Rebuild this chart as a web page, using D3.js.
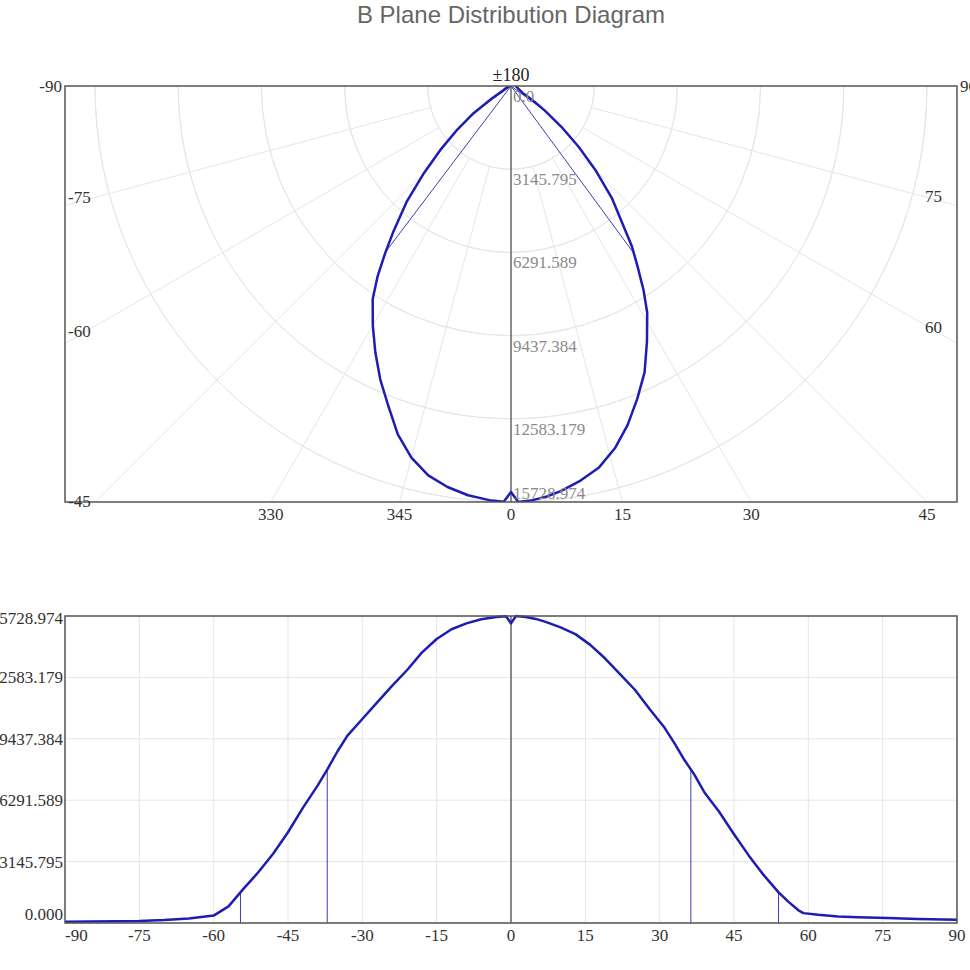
<!DOCTYPE html>
<html>
<head>
<meta charset="utf-8">
<title>B Plane Distribution Diagram</title>
<script src="https://cdn.jsdelivr.net/npm/d3@7"></script>
<style>
    body { margin: 0; background: #fff; }
    svg text { font-family: "Liberation Serif", "DejaVu Serif", serif; font-size: 17px; }
</style>
</head>
<body>
<div id="chart"></div>
<script>
// Angle (deg) and intensity.
var angles = [-90, -85, -80, -75, -70, -65, -60, -57, -54, -51, -48, -45, -42, -39, -37, -35, -33, -30, -27, -24,
    -21, -18, -15, -12, -9, -6, -3, -1, 0, 1, 3, 5, 7, 10, 13, 16, 19, 22, 25, 28,
    31, 33, 35, 37, 39, 42, 45, 48, 51, 54, 56, 58, 59, 62, 66, 70, 76, 82, 90];
var intensity = [70, 75, 85, 100, 150, 230, 380, 850, 1750, 2600, 3550, 4650, 5900, 7050, 7900, 8800, 9600, 10450, 11300, 12150,
    12950, 13850, 14550, 15050, 15350, 15560, 15680, 15720, 15350, 15728.974, 15680, 15580, 15430, 15150, 14800, 14250, 13550, 12750, 11950, 10950,
    10000, 9200, 8350, 7600, 6700, 5700, 4550, 3450, 2450, 1570, 1080, 650, 506, 420, 330, 290, 250, 210, 165];

var maxValue = 15728.974;
var valueTicks = [0, 3145.795, 6291.589, 9437.384, 12583.179, 15728.974];
var polarValueLabels = ["0.0", "3145.795", "6291.589", "9437.384", "12583.179", "15728.974"];
var cartValueLabels = ["0.000", "3145.795", "6291.589", "9437.384", "12583.179", "15728.974"];
var polarAngleTicks = [-90, -75, -60, -45, -30, -15, 0, 15, 30, 45, 60, 75, 90];
var polarAngleLabels = ["-90", "-75", "-60", "-45", "330", "345", "0", "15", "30", "45", "60", "75", "90"];
var cartAngleTicks = [-90, -75, -60, -45, -30, -15, 0, 15, 30, 45, 60, 75, 90];
var markerLevels = [0.5, 0.1];   // half-peak and 10% lines

var data = angles.map(function (a, i) { return { angle: a, value: intensity[i] }; });

var width = 970, height = 970;
var curveColor = "#1d1db4";
var markColor = "#3c3cb4";
var gridColor = "#e6e6e6";
var frameColor = "#555";

var svg = d3.select("#chart").append("svg")
    .attr("width", width)
    .attr("height", height);

svg.append("text")
    .attr("x", 511).attr("y", 23)
    .attr("text-anchor", "middle")
    .style("font-family", "'Liberation Sans', Arial, sans-serif")
    .style("font-size", "24px")
    .style("fill", "#666")
    .text("B Plane Distribution Diagram");

var rad = function (d) { return d * Math.PI / 180; };

// angle where the curve crosses a level, searching from one side
function crossing(level, fromLeft) {
    var n = data.length;
    for (var k = 0; k < n - 1; k++) {
        var i = fromLeft ? k : n - 1 - k;
        var j = fromLeft ? i + 1 : i - 1;
        var a = data[i], b = data[j];
        if (a.value < level && b.value >= level) {
            return a.angle + (b.angle - a.angle) * (level - a.value) / (b.value - a.value);
        }
    }
    return null;
}
var markers = [];
markerLevels.forEach(function (f) {
    var lv = f * maxValue;
    markers.push({ angle: crossing(lv, true), value: lv });
    markers.push({ angle: crossing(lv, false), value: lv });
});

/* ---------------- polar plot ---------------- */
var box = { x0: 65, x1: 957, y0: 86, y1: 502 };
var cx = 511, cy = box.y0;
var r = d3.scaleLinear().domain([0, maxValue]).range([0, box.y1 - box.y0]);

svg.append("clipPath").attr("id", "polarClip")
    .append("rect")
    .attr("x", box.x0).attr("y", box.y0)
    .attr("width", box.x1 - box.x0).attr("height", box.y1 - box.y0);

var polar = svg.append("g").attr("clip-path", "url(#polarClip)");
var centre = polar.append("g").attr("transform", "translate(" + cx + "," + cy + ")");

// circles
centre.selectAll(".ring")
    .data(valueTicks.slice(1))
    .enter().append("path")
    .attr("d", function (v) {
        return d3.arc().innerRadius(r(v)).outerRadius(r(v))
            .startAngle(Math.PI / 2).endAngle(Math.PI * 1.5)();
    })
    .style("fill", "none")
    .style("stroke", gridColor)
    .style("stroke-width", 1);

// distance from the centre to the frame along an angle
function rayLength(a) {
    var s = Math.abs(Math.sin(rad(a))), c = Math.cos(rad(a));
    var tSide = s > 1e-9 ? (cx - box.x0) / s : Infinity;
    var tBottom = c > 1e-9 ? (box.y1 - cy) / c : Infinity;
    return Math.min(tSide, tBottom);
}

// spokes (start at first ring)
centre.selectAll(".spoke")
    .data(polarAngleTicks.filter(function (a) { return a !== 0 && Math.abs(a) !== 90; }))
    .enter().append("line")
    .attr("x1", function (a) { return r(valueTicks[1]) * Math.sin(rad(a)); })
    .attr("y1", function (a) { return r(valueTicks[1]) * Math.cos(rad(a)); })
    .attr("x2", function (a) { return rayLength(a) * Math.sin(rad(a)); })
    .attr("y2", function (a) { return rayLength(a) * Math.cos(rad(a)); })
    .style("stroke", gridColor)
    .style("stroke-width", 1);

// 0 degree axis
centre.append("line")
    .attr("x1", 0).attr("y1", 0)
    .attr("x2", 0).attr("y2", r(maxValue))
    .style("stroke", "#666")
    .style("stroke-width", 1.5);

// radial value labels
svg.selectAll(".rlabel")
    .data(valueTicks)
    .enter().append("text")
    .attr("x", cx + 2)
    .attr("y", function (v) { return Math.min(cy + r(v) + 16, box.y1 - 3); })
    .style("fill", "#8a8a8a")
    .text(function (v, i) { return polarValueLabels[i]; });

// marker lines from the centre
centre.selectAll(".pmark")
    .data(markers)
    .enter().append("line")
    .attr("x1", 0).attr("y1", 0)
    .attr("x2", function (d) { return r(d.value) * Math.sin(rad(d.angle)); })
    .attr("y2", function (d) { return r(d.value) * Math.cos(rad(d.angle)); })
    .style("stroke", markColor)
    .style("stroke-width", 1);

var radial = d3.lineRadial()
    .angle(function (d) { return Math.PI - rad(d.angle); })
    .radius(function (d) { return r(d.value); });

centre.append("path")
    .datum(data)
    .attr("d", radial)
    .style("fill", "none")
    .style("stroke", curveColor)
    .style("stroke-width", 2.5)
    .style("stroke-linejoin", "round");

svg.append("rect")
    .attr("x", box.x0).attr("y", box.y0)
    .attr("width", box.x1 - box.x0).attr("height", box.y1 - box.y0)
    .style("fill", "none")
    .style("stroke", frameColor)
    .style("stroke-width", 1.5);

// angle labels
polarAngleTicks.forEach(function (a, i) {
    var t = svg.append("text").text(polarAngleLabels[i]).style("fill", "#333");
    var cot = 1 / Math.tan(rad(Math.abs(a)));
    if (a === -90) {
        t.attr("x", box.x0 - 3).attr("y", cy + 6).attr("text-anchor", "end");
    } else if (a === 90) {
        t.attr("x", box.x1 + 3).attr("y", cy + 6);
    } else if (a <= -45) {
        t.attr("x", box.x0 + 3).attr("y", Math.min(cy + (cx - 80) * cot, 505) + 2);
    } else if (a > 45) {
        t.attr("x", box.x1 - 15).attr("y", cy + (935 - cx) * cot + 2).attr("text-anchor", "end");
    } else {
        t.attr("x", cx + (box.y1 - cy) * Math.tan(rad(a))).attr("y", box.y1 + 18).attr("text-anchor", "middle");
    }
});

svg.append("text")
    .attr("x", cx).attr("y", cy - 5)
    .attr("text-anchor", "middle")
    .style("fill", "#222")
    .style("font-size", "18px")
    .text("±180");

/* ---------------- cartesian plot ---------------- */
var plot = { x0: 65, x1: 957, y0: 616, y1: 923 };
var x = d3.scaleLinear().domain([-90, 90]).range([plot.x0, plot.x1]);
var y = d3.scaleLinear().domain([0, maxValue]).range([plot.y1, plot.y0]);

var cart = svg.append("g");

cart.selectAll(".vgrid")
    .data(cartAngleTicks)
    .enter().append("line")
    .attr("x1", x).attr("x2", x)
    .attr("y1", plot.y0).attr("y2", plot.y1)
    .style("stroke", gridColor)
    .style("stroke-width", 1);

cart.selectAll(".hgrid")
    .data(valueTicks)
    .enter().append("line")
    .attr("x1", plot.x0).attr("x2", plot.x1)
    .attr("y1", y).attr("y2", y)
    .style("stroke", gridColor)
    .style("stroke-width", 1);

cart.append("line")
    .attr("x1", x(0)).attr("x2", x(0))
    .attr("y1", plot.y0).attr("y2", plot.y1)
    .style("stroke", "#666")
    .style("stroke-width", 1.5);

cart.selectAll(".cmark")
    .data(markers)
    .enter().append("line")
    .attr("x1", function (d) { return x(d.angle); })
    .attr("x2", function (d) { return x(d.angle); })
    .attr("y1", y(0))
    .attr("y2", function (d) { return y(d.value); })
    .style("stroke", markColor)
    .style("stroke-width", 1);

cart.append("path")
    .datum(data)
    .attr("d", d3.line()
        .x(function (d) { return x(d.angle); })
        .y(function (d) { return y(d.value); }))
    .style("fill", "none")
    .style("stroke", curveColor)
    .style("stroke-width", 2.5)
    .style("stroke-linejoin", "round");

cart.append("rect")
    .attr("x", plot.x0).attr("y", plot.y0)
    .attr("width", plot.x1 - plot.x0).attr("height", plot.y1 - plot.y0)
    .style("fill", "none")
    .style("stroke", frameColor)
    .style("stroke-width", 1.5);

cart.selectAll(".ylabel")
    .data(valueTicks)
    .enter().append("text")
    .attr("x", plot.x0 - 2)
    .attr("y", function (v) { return Math.max(Math.min(y(v), 914), 618) + 6; })
    .attr("text-anchor", "end")
    .style("fill", "#333")
    .text(function (v, i) { return cartValueLabels[i]; });

cart.selectAll(".xlabel")
    .data(cartAngleTicks)
    .enter().append("text")
    .attr("x", x)
    .attr("y", plot.y1 + 18)
    .attr("text-anchor", function (a, i) { return i === 0 ? "start" : "middle"; })
    .style("fill", "#333")
    .text(function (a) { return a; });
</script>
</body>
</html>
